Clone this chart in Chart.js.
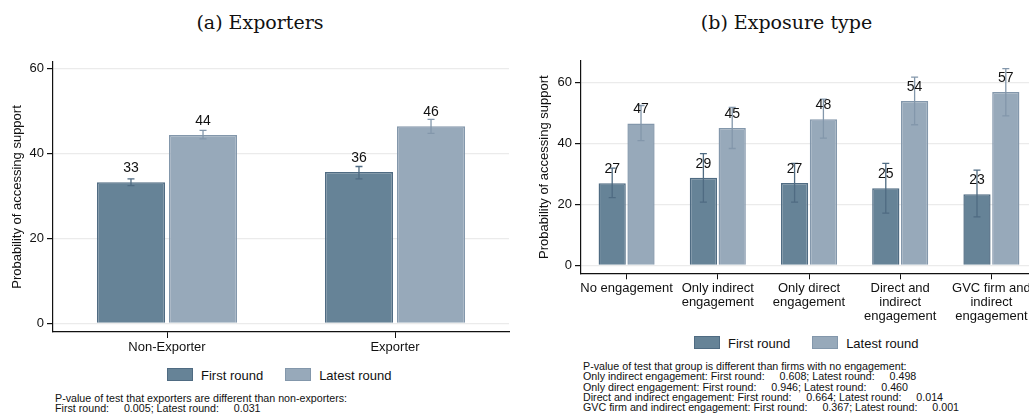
<!doctype html>
<html lang="en">
<head>
<meta charset="utf-8">
<title>Probability of accessing support</title>
<script src="https://cdn.jsdelivr.net/npm/chart.js@4.4.1/dist/chart.umd.min.js"></script>
<style>
  html, body { margin: 0; padding: 0; background: #fff; }
  body { width: 1029px; height: 414px; overflow: hidden; position: relative; font-family: "Liberation Sans", Arial, sans-serif; }
  .title { position: absolute; top: 11px; font-family: "DejaVu Serif", "Liberation Serif", serif; font-size: 19px; color: #111; text-align: center; }
  .box { position: absolute; }
  .legend { position: absolute; font-size: 13px; color: #111; white-space: nowrap; }
  .legend span.sw { display: inline-block; width: 24px; height: 11px; vertical-align: -1px; margin-right: 8px; }
  .note { position: absolute; font-size: 10.7px; line-height: 10.3px; color: #111; white-space: pre; }
</style>
</head>
<body>

<div class="title" style="left:0;width:520px;">(a) Exporters</div>
<div class="title" style="left:520px;width:533px;">(b) Exposure type</div>

<div class="box" style="left:0;top:0;width:520px;height:360px;"><canvas id="chartA"></canvas></div>
<div class="box" style="left:520px;top:0;width:530px;height:330px;"><canvas id="chartB"></canvas></div>

<div class="legend" style="left:167px;top:368px;"><span class="sw" style="background:#668397;border:1px solid #4f6b82"></span>First round<span class="sw" style="background:#97a9ba;border:1px solid #8397ab;margin-left:22px"></span>Latest round</div>
<div class="legend" style="left:694px;top:336px;"><span class="sw" style="background:#668397;border:1px solid #4f6b82"></span>First round<span class="sw" style="background:#97a9ba;border:1px solid #8397ab;margin-left:22px"></span>Latest round</div>

<div class="note" style="left:55px;top:393px;">P-value of test that exporters are different than non-exporters:
First round:     0.005; Latest round:     0.031</div>
<div class="note" style="left:583px;top:361px;">P-value of test that group is different than firms with no engagement:
Only indirect engagement: First round:     0.608; Latest round:     0.498
Only direct engagement: First round:     0.946; Latest round:     0.460
Direct and indirect engagement: First round:     0.664; Latest round:     0.014
GVC firm and indirect engagement: First round:     0.367; Latest round:     0.001</div>

<script>
// panel (a) exporters
var catsA = ['Non-Exporter', 'Exporter'];
var firstA = [33.2, 35.6];
var latestA = [44.3, 46.4];
var firstA_lo = [32.4, 34.0];
var firstA_hi = [34.0, 36.9];
var latestA_lo = [43.4, 44.7];
var latestA_hi = [45.4, 48.0];

// panel (b) exposure type
var catsB = ['No engagement', ['Only indirect', 'engagement'], ['Only direct', 'engagement'],
             ['Direct and', 'indirect', 'engagement'], ['GVC firm and', 'indirect', 'engagement']];
var firstB = [26.9, 28.7, 27.0, 25.3, 23.3];
var latestB = [46.5, 45.0, 47.9, 53.9, 56.8];
var firstB_lo = [22.2, 20.7, 20.7, 17.1, 15.9];
var firstB_hi = [31.9, 36.6, 33.4, 33.4, 31.2];
var latestB_lo = [40.9, 38.3, 41.7, 46.1, 49.0];
var latestB_hi = [52.4, 51.8, 54.5, 61.7, 64.5];

var yTicks = [0, 20, 40, 60];

var darkFill = '#668397', darkLine = '#4f6b82';
var lightFill = '#97a9ba', lightLine = '#8397ab';

// error bars + value labels, positioned with the chart's own scales
var extras = {
    id: 'extras',
    afterDatasetsDraw: function (chart) {
        var ctx = chart.ctx;
        var y = chart.scales.y;
        chart.data.datasets.forEach(function (ds, di) {
            var meta = chart.getDatasetMeta(di);
            meta.data.forEach(function (bar, i) {
                var top = y.getPixelForValue(ds.hi[i]);
                var bot = y.getPixelForValue(ds.lo[i]);
                ctx.save();
                ctx.strokeStyle = ds.errColor;
                ctx.lineWidth = 1.3;
                ctx.beginPath();
                ctx.moveTo(bar.x, top); ctx.lineTo(bar.x, bot);
                ctx.moveTo(bar.x - 3.5, top); ctx.lineTo(bar.x + 3.5, top);
                ctx.moveTo(bar.x - 3.5, bot); ctx.lineTo(bar.x + 3.5, bot);
                ctx.stroke();
                ctx.fillStyle = '#111';
                ctx.font = '14px "Liberation Sans", Arial, sans-serif';
                ctx.textAlign = 'center';
                ctx.textBaseline = 'middle';
                ctx.fillText(Math.round(ds.data[i]), bar.x, bar.y - 14);
                ctx.restore();
            });
        });
    }
};

function makeChart(id, cats, first, latest, fLo, fHi, lLo, lHi, cfg) {
    new Chart(document.getElementById(id), {
        type: 'bar',
        data: {
            labels: cats,
            datasets: [{
                label: 'First round',
                data: first, lo: fLo, hi: fHi, errColor: darkLine,
                backgroundColor: darkFill, borderColor: darkLine, borderWidth: 1.5,
                categoryPercentage: 0.632, barPercentage: 0.945
            }, {
                label: 'Latest round',
                data: latest, lo: lLo, hi: lHi, errColor: lightLine,
                backgroundColor: lightFill, borderColor: lightLine, borderWidth: 1.5,
                categoryPercentage: 0.632, barPercentage: 0.945
            }]
        },
        options: {
            responsive: true,
            maintainAspectRatio: false,
            animation: false,
            layout: { padding: { top: cfg.top, right: cfg.right, left: 0, bottom: 0 } },
            plugins: { legend: { display: false }, tooltip: { enabled: false } },
            scales: {
                x: {
                    grid: { offset: false, drawOnChartArea: false, tickLength: 6, tickColor: '#111' },
                    border: { color: '#111', width: 1.2 },
                    ticks: { color: '#111', padding: 2, maxRotation: 0, autoSkip: false,
                             font: { size: 13, family: '"Liberation Sans", Arial, sans-serif', lineHeight: 1.07 } },
                    afterFit: function (s) { s.height = cfg.xh; }
                },
                y: {
                    min: cfg.min, max: cfg.max,
                    afterBuildTicks: function (s) { s.ticks = yTicks.map(function (v) { return { value: v }; }); },
                    grid: { color: '#ebebeb', lineWidth: 1.2, tickLength: 6, tickColor: '#111' },
                    border: { color: '#111', width: 1.2 },
                    ticks: { color: '#111', padding: 3, font: { size: 13, family: '"Liberation Sans", Arial, sans-serif' } },
                    title: { display: true, text: 'Probability of accessing support', color: '#111',
                             padding: { top: cfg.tp, bottom: 0 },
                             font: { size: 13, family: '"Liberation Sans", Arial, sans-serif' } },
                    afterFit: function (s) { s.width = cfg.yw; }
                }
            }
        },
        plugins: [extras]
    });
}

makeChart('chartA', catsA, firstA, latestA, firstA_lo, firstA_hi, latestA_lo, latestA_hi,
    { top: 62, right: 11, xh: 28, yw: 53, tp: 10, min: -2.05, max: 61.5 });
makeChart('chartB', catsB, firstB, latestB, firstB_lo, firstB_hi, latestB_lo, latestB_hi,
    { top: 61, right: 13, xh: 56.7, yw: 61, tp: 17, min: -2.62, max: 67 });
</script>
</body>
</html>
